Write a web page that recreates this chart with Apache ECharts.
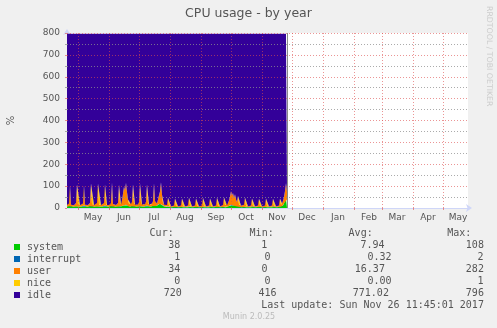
<!DOCTYPE html>
<html><head><meta charset="utf-8">
<script src="https://cdn.jsdelivr.net/npm/echarts@6/dist/echarts.min.js"></script>
<style>html,body{margin:0;padding:0;background:#F0F0F0}#c{width:497px;height:328px}</style>
</head><body><div id="c"></div>
<script>
// ---- data ----
const startDate = [2017, 3, 20];   // Apr 20 2017 (first day on the axis)
const dayCount = 402;             // days shown on the axis (Apr 20 2017 .. May 26 2018)
const monthLabels = ['Jan','Feb','Mar','Apr','May','Jun','Jul','Aug','Sep','Oct','Nov','Dec'];
const seriesNames = ['system','interrupt','user','nice','idle'];
const seriesColors = ['#00CC00','#0066B3','#FF8000','#FFCC00','#330099'];

const systemVals = [
 7,7,8,11,7,7,7,7,7,8,
 12,7,7,7,7,7,8,11,7,7,
 7,7,7,8,12,8,7,7,7,7,
 8,12,7,7,7,7,7,8,11,7,
 7,7,7,7,8,13,8,7,7,7,
 7,8,11,8,7,8,10,12,11,14,
 12,9,7,7,7,8,12,8,7,7,
 7,7,8,12,8,7,7,7,7,8,
 11,8,7,7,7,8,9,12,10,9,
 10,14,18,20,22,15,9,7,6,5,
 5,8,5,4,4,4,4,5,8,5,
 4,4,4,4,5,7,5,4,4,4,
 4,5,8,5,4,4,4,4,5,7,
 5,4,4,4,4,5,8,5,4,4,
 4,4,5,7,5,4,4,4,4,5,
 8,5,4,4,4,4,5,8,5,4,
 5,7,9,12,14,12,13,10,12,9,
 7,9,5,4,4,4,4,5,8,5,
 4,4,4,4,5,7,5,4,4,4,
 4,5,7,5,4,4,4,4,5,7,
 5,4,4,4,4,5,7,5,4,4,
 4,4,5,7,6,8,12,20,32,42,
 38];
const interruptVals = [
 .3,.3,.3,.4,.3,.3,.3,.3,.3,.3,
 .4,.3,.3,.3,.3,.3,.3,.4,.3,.3,
 .3,.3,.3,.3,.4,.3,.3,.3,.3,.3,
 .3,.4,.3,.3,.3,.3,.3,.3,.4,.3,
 .3,.3,.3,.3,.3,.4,.3,.3,.3,.3,
 .3,.3,.4,.3,.3,.3,.4,.4,.4,.5,
 .4,.3,.3,.3,.3,.3,.4,.3,.3,.3,
 .3,.3,.3,.4,.3,.3,.3,.3,.3,.3,
 .4,.3,.3,.3,.3,.3,.3,.4,.3,.3,
 .3,.4,.4,.5,.5,.4,.3,.3,.3,.3,
 .3,.3,.3,.2,.2,.2,.2,.3,.3,.3,
 .2,.2,.2,.2,.3,.3,.3,.2,.2,.2,
 .2,.3,.3,.3,.2,.2,.2,.2,.3,.3,
 .3,.2,.2,.2,.2,.3,.3,.3,.2,.2,
 .2,.2,.3,.3,.3,.2,.2,.2,.2,.3,
 .3,.3,.2,.2,.2,.2,.3,.3,.3,.2,
 .3,.3,.4,.4,.5,.4,.4,.3,.4,.3,
 .3,.3,.3,.2,.2,.2,.2,.3,.3,.3,
 .2,.2,.2,.2,.3,.3,.3,.2,.2,.2,
 .2,.3,.3,.3,.2,.2,.2,.2,.3,.3,
 .3,.2,.2,.2,.2,.3,.3,.3,.2,.2,
 .2,.2,.3,.3,.3,.3,.4,.5,.7,.9,
 1];
const userVals = [
 6,5,12,90,8,5,6,5,7,14,
 95,9,6,5,6,5,12,92,8,6,
 5,6,7,15,100,10,6,5,6,6,
 14,98,9,6,5,6,7,14,96,9,
 6,5,6,6,16,102,10,6,6,6,
 7,15,95,10,8,25,55,85,70,100,
 60,30,12,8,10,20,95,12,8,6,
 7,9,18,98,14,9,7,8,10,20,
 96,12,8,7,8,12,22,100,20,12,
 10,25,40,55,95,45,15,8,6,5,
 8,38,6,4,3,3,4,6,35,5,
 3,3,3,4,6,36,5,3,3,3,
 4,6,38,5,3,3,3,4,6,36,
 5,3,3,3,4,6,37,5,3,3,
 3,4,6,36,5,3,3,3,4,6,
 38,5,3,3,3,5,8,40,8,5,
 6,15,25,40,62,45,55,35,50,30,
 20,45,12,8,6,5,6,10,38,6,
 4,3,3,4,6,36,5,3,3,3,
 4,6,35,5,3,3,3,4,6,36,
 5,3,3,3,4,6,35,5,3,3,
 3,4,6,36,8,12,20,30,45,70,
 34];
const niceVals = [
 0,0,0,0,0,0,0,0,0,0, 0,0,0,0,0,0,0,0,0,0,
 0,0,0,0,0,0,0,0,0,0, 0,0,0,0,0,0,0,0,0,0,
 0,0,0,0,0,0,0,0,0,0, 0,0,0,0,0,0,0,0,0,0,
 0,0,0,0,0,0,0,0,0,0, 0,0,0,0,0,0,0,0,0,0,
 0,0,0,0,0,0,0,0,0,0, 0,0,0,0,0,0,0,0,0,0,
 0,0,0,0,0,0,0,0,0,0, 0,0,0,0,0,0,0,0,0,0,
 0,0,0,0,0,0,0,0,0,0, 0,0,0,0,0,0,0,0,0,0,
 0,0,0,0,0,0,0,0,0,0, 0,0,0,0,0,0,0,0,0,0,
 0,0,0,0,0,0,0,0,0,0, 0,0,0,0,0,0,0,0,0,0,
 0,0,0,0,0,0,0,0,0,0, 0,0,0,0,0,0,0,0,0,0,
 0,0,0,0,0,0,0,0,0,0, 0,0,0,0,0,0,0,0,0,0,
 0];
const idleVals = [
 783,784,776,695,781,784,783,784,782,774,
 689,780,783,784,783,784,776,693,781,783,
 784,783,782,773,684,778,783,784,783,783,
 774,686,780,783,784,783,782,774,689,780,
 783,784,783,783,772,681,778,783,783,783,
 782,773,690,778,781,763,731,699,715,682,
 724,757,777,781,779,768,689,776,781,783,
 782,780,770,686,774,780,782,781,779,768,
 689,776,781,782,781,776,765,684,766,775,
 776,757,738,721,679,736,772,781,784,786,
 783,750,785,788,789,789,788,785,753,786,
 789,789,789,788,785,753,786,789,789,789,
 788,785,750,786,789,789,789,788,785,753,
 786,789,789,789,788,785,751,786,789,789,
 789,788,785,753,786,789,789,789,788,785,
 750,786,789,789,789,787,783,748,783,787,
 785,774,762,744,720,739,728,751,734,757,
 769,742,779,784,786,787,786,781,750,785,
 788,789,789,788,785,753,786,789,789,789,
 788,785,754,786,789,789,789,788,785,753,
 786,789,789,789,788,785,754,786,789,789,
 789,788,785,753,782,776,764,746,719,684,
 720];

const statHeaders = ['Cur:','Min:','Avg:','Max:'];
const statCur = ['38','1','34','0','720'];
const statMin = ['1','0','0','0','416'];
const statAvg = ['7.94','0.32','16.37','0.00','771.02'];
const statMax = ['108','2','282','1','796'];
const lastUpdate = 'Last update: Sun Nov 26 11:45:01 2017';
const footer = 'Munin 2.0.25';

// ---- axis categories (one per day) ----
const t0 = Date.UTC(startDate[0], startDate[1], startDate[2]);
const days = [];
for (let i = 0; i < dayCount; i++) days.push(new Date(t0 + i * 86400000).toISOString().slice(0, 10));
const isMonthStart = (i, v) => v.slice(8, 10) === '01';
const isMidMonth = (i, v) => v.slice(8, 10) === '16';

const FONT = '"DejaVu Sans", sans-serif';
const MONO = '"DejaVu Sans Mono", monospace';
const TXT = '#555';
const MGRID = 'rgba(222,79,79,0.6)';
const GRID = 'rgba(143,143,143,0.75)';
const AXIS = '#CFD6F8';

const valsBySeries = [systemVals, interruptVals, userVals, niceVals, idleVals];
const series = seriesNames.map((name, k) => ({
  name, type: 'line', stack: 'cpu', data: valsBySeries[k],
  xAxisIndex: 0, yAxisIndex: 0,
  showSymbol: false, symbol: 'none', silent: true,
  color: seriesColors[k], itemStyle: {color: seriesColors[k]},
  lineStyle: {width: 0}, areaStyle: {color: seriesColors[k], opacity: 1},
  z: 2
}));
series[4].markLine = {
  silent: true, symbol: 'none', label: {show: false},
  lineStyle: {color: '#8a8a8a', width: 1, type: 'solid'},
  data: [{xAxis: days[idleVals.length - 1]}]
};

// text layout for the stats table
const rowY = [245.7, 257.7, 269.7, 281.5, 293.6];
const curRight = [180.3, 180.3, 180.3, 180.3, 181.7];
const minRight = [267.3, 270.6, 267.6, 270.6, 276.6];
const avgRight = [384.6, 391.6, 384.9, 391.6, 388.9];
const maxRight = [483.9, 483.5, 483.9, 483.5, 483.9];
const headerLeft = [149.6, 249.6, 348.6, 447.3];

const graphics = [];
function txt(x, y, text, align, font, fill) {
  graphics.push({type: 'text', x, y, silent: true, z: 10,
    style: {text, font, fill, align, verticalAlign: 'middle', textAlign: align, textVerticalAlign: 'middle'}});
}
statHeaders.forEach((h, j) => txt(headerLeft[j], 233.4, h, 'left', '10px ' + MONO, TXT));
for (let r = 0; r < 5; r++) {
  txt(curRight[r], rowY[r], statCur[r], 'right', '10px ' + MONO, TXT);
  txt(minRight[r], rowY[r], statMin[r], 'right', '10px ' + MONO, TXT);
  txt(avgRight[r], rowY[r], statAvg[r], 'right', '10px ' + MONO, TXT);
  txt(maxRight[r], rowY[r], statMax[r], 'right', '10px ' + MONO, TXT);
}
txt(483.9, 305.4, lastUpdate, 'right', '10px ' + MONO, TXT);
txt(249, 316.8, footer, 'center', '8px ' + FONT, '#BBBBBB');
graphics.push({type: 'text', x: 488.8, y: 6, rotation: -Math.PI / 2, silent: true,
  style: {text: 'RRDTOOL / TOBI OETIKER', font: '7.8px ' + FONT, fill: '#CCCCCC',
    align: 'left', verticalAlign: 'middle', textAlign: 'left', textVerticalAlign: 'middle'}});

const chart = echarts.init(document.getElementById('c'), null, {renderer: 'canvas'});
chart.setOption({
  animation: false,
  backgroundColor: '#F0F0F0',
  title: {text: 'CPU usage - by year', left: 'center', top: 7, padding: 0,
    textStyle: {fontFamily: FONT, fontSize: 12.5, fontWeight: 'normal', color: TXT}},
  grid: {left: 67, top: 33, width: 401, height: 175, show: true, backgroundColor: '#FFFFFF', borderWidth: 0,
    containLabel: false, outerBoundsMode: 'none'},
  legend: {
    orient: 'vertical', left: 14, top: 241, padding: 0, itemGap: 0,
    itemWidth: 6, itemHeight: 6, icon: 'rect', selectedMode: false,
    data: seriesNames.map((n, k) => ({name: n, itemStyle: {color: seriesColors[k]}})),
    textStyle: {fontFamily: MONO, fontSize: 10, color: TXT, lineHeight: 12, padding: [0, 0, 0, 2]}
  },
  xAxis: [
    {type: 'category', data: days, boundaryGap: false, position: 'bottom', z: 3,
     axisLine: {show: true, lineStyle: {color: AXIS}, symbol: ['none', 'arrow'], symbolSize: [6, 6], symbolOffset: [0, 4]},
     axisTick: {show: true, interval: isMonthStart, length: 2, lineStyle: {color: MGRID}},
     axisLabel: {show: true, interval: isMidMonth, margin: 5, color: TXT, fontFamily: FONT, fontSize: 9,
       formatter: v => monthLabels[parseInt(v.slice(5, 7), 10) - 1]},
     splitLine: {show: false}},
    {type: 'category', data: days, boundaryGap: false, position: 'bottom', z: 3,
     axisLine: {show: false}, axisTick: {show: false}, axisLabel: {show: false},
     splitLine: {show: true, interval: isMonthStart, lineStyle: {color: MGRID, type: [1, 2], width: 1}}}
  ],
  yAxis: [
    {type: 'value', min: 0, max: 800, interval: 100, z: 0,
     name: '%', nameLocation: 'middle', nameGap: 51, nameRotate: 90,
     nameTextStyle: {color: TXT, fontFamily: FONT, fontSize: 10},
     axisLine: {show: true, lineStyle: {color: AXIS}, symbol: ['none', 'arrow'], symbolSize: [6, 6], symbolOffset: [0, 4]},
     axisTick: {show: false},
     axisLabel: {show: true, margin: 7, color: TXT, fontFamily: FONT, fontSize: 9},
     splitLine: {show: false}},
    {type: 'value', min: 0, max: 800, interval: 100, z: 3, position: 'left',
     axisLine: {show: false}, axisLabel: {show: false},
     axisTick: {show: true, length: 2, lineStyle: {color: MGRID}},
     minorTick: {show: true, splitNumber: 2, length: 2, lineStyle: {color: GRID}},
     splitLine: {show: true, lineStyle: {color: MGRID, type: [1, 2], width: 1}},
     minorSplitLine: {show: true, lineStyle: {color: GRID, type: [1, 2], width: 1}}}
  ],
  series,
  graphic: graphics
});
</script></body></html>
